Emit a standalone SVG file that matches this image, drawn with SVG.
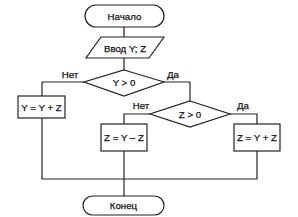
<svg xmlns="http://www.w3.org/2000/svg" width="298" height="217" viewBox="0 0 298 217">
<style>
.s{fill:#fff;stroke:#222;stroke-width:1.2}
.c{fill:none;stroke:#222;stroke-width:1.2}
text{font-family:"Liberation Sans",Arial,sans-serif;font-size:9.7px;fill:#111;text-anchor:middle;stroke:#111;stroke-width:0.25}
</style>
<rect width="298" height="217" fill="#fff"/>
<g id="connectors">
<path class="c" d="M124,27V37"/>
<path class="c" d="M124,58V70"/>
<path class="c" d="M84,82H42V96"/>
<path class="c" d="M164,82H190V101"/>
<path class="c" d="M150,114H124V124"/>
<path class="c" d="M230,114H257V124"/>
<path class="c" d="M42,118V179H257V151"/>
<path class="c" d="M124,151V196"/>
</g>
<g id="start"><rect class="s" x="85" y="5" width="79" height="22" rx="11"/><text x="124.5" y="19.5">Начало</text></g>
<g id="input"><polygon class="s" points="101,37 164,37 149,58 86,58"/><text x="125" y="51.5">Ввод Y; Z</text></g>
<g id="dec1"><polygon class="s" points="124,70 164,82 124,96 84,82"/><text x="124" y="86">Y &gt; 0</text></g>
<g id="lbl1"><text x="70" y="78">Нет</text><text x="173" y="78">Да</text></g>
<g id="box1"><rect class="s" x="18" y="96" width="47" height="22"/><text x="41.5" y="110.5">Y = Y + Z</text></g>
<g id="dec2"><polygon class="s" points="190,101 230,114 190,127 150,114"/><text x="190" y="118">Z &gt; 0</text></g>
<g id="lbl2"><text x="141" y="109">Нет</text><text x="243" y="109">Да</text></g>
<g id="box2"><rect class="s" x="101" y="124" width="46" height="27"/><text x="124" y="141">Z = Y – Z</text></g>
<g id="box3"><rect class="s" x="234" y="124" width="46" height="27"/><text x="257" y="141">Z = Y + Z</text></g>
<g id="end"><rect class="s" x="83" y="196" width="81" height="19" rx="9.5"/><text x="123.5" y="209">Конец</text></g>
</svg>
